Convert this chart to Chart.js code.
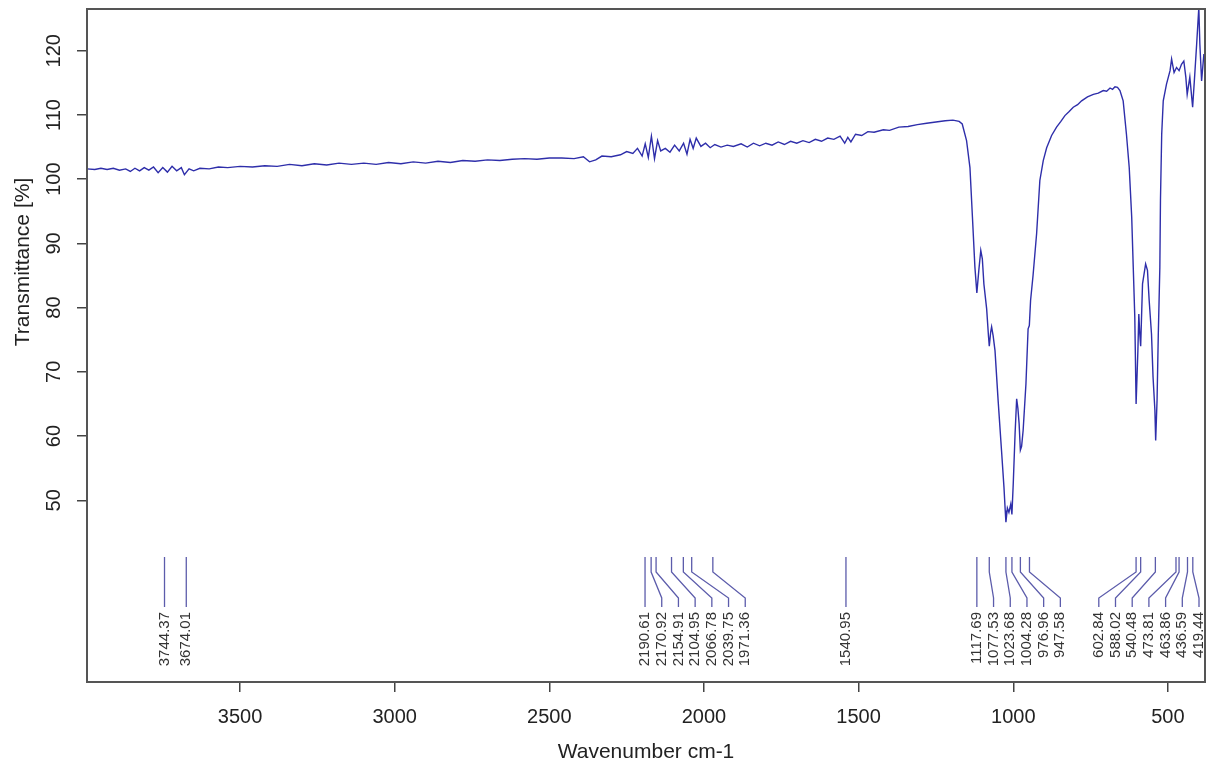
<!DOCTYPE html>
<html>
<head>
<meta charset="utf-8">
<script src="https://cdn.jsdelivr.net/npm/chart.js@4.4.1/dist/chart.umd.min.js"></script>
<style>
  body { margin: 0; background: #fff; }
  #wrap { width: 1206px; height: 760px; position: relative; }
</style>
</head>
<body>
<div id="wrap"><canvas id="spec"></canvas></div>
<script>
// spectrum (wavenumber cm-1 / transmittance %)
const waveNumbers = [
  3995, 3970, 3950, 3930, 3910, 3890, 3870, 3855, 3840, 3825, 3810, 3795, 3780, 3765, 3750, 3735, 3720, 3705, 3690, 3680,
  3665, 3650, 3630, 3600, 3570, 3540, 3500, 3460, 3420, 3380, 3340, 3300, 3260, 3220, 3180, 3140, 3100, 3060, 3020, 2980,
  2940, 2900, 2860, 2820, 2780, 2740, 2700, 2660, 2620, 2580, 2540, 2500, 2460, 2420, 2390, 2370, 2350, 2330, 2300, 2270,
  2250, 2230, 2215, 2200, 2190, 2180, 2170, 2160, 2150, 2140, 2125, 2110, 2095, 2080, 2066, 2055, 2045, 2035, 2025, 2010,
  1995, 1980, 1965, 1945, 1925, 1905, 1880, 1860, 1840, 1820, 1800, 1780, 1760, 1740, 1720, 1700, 1680, 1660, 1640, 1620,
  1600, 1580, 1560, 1545, 1535, 1525, 1510, 1490, 1470, 1450, 1420, 1400, 1370, 1340, 1310, 1280, 1250, 1220, 1195, 1175,
  1165, 1151, 1140, 1132, 1124, 1117.7, 1111, 1105, 1100, 1095, 1086, 1080, 1077.5, 1073, 1070, 1065, 1059, 1049, 1038, 1030,
  1026, 1023.7, 1019, 1014, 1008, 1004.3, 1000, 994, 989, 985, 981, 977, 973, 968, 959, 952, 948, 944, 936, 924.5,
  914, 903, 892, 876, 860, 846, 833, 820, 806, 792, 779, 760, 741, 725, 709, 698, 687, 679, 671, 663,
  655, 644.6, 634, 625, 617, 612, 607, 602.8, 597, 594, 591, 588, 582, 572, 566, 560.5, 553, 548, 542, 539.5,
  535, 531, 526, 524, 520, 515, 504.5, 493, 488, 480, 472, 463.8, 456, 448.5, 442, 437.6, 429, 420, 413, 407,
  400, 396.6, 391, 383.6
];
const transmittance = [
  101.6, 101.5, 101.7, 101.5, 101.7, 101.4, 101.6, 101.2, 101.7, 101.3, 101.8, 101.4, 101.9, 101.0, 101.8, 101.1, 102.0, 101.3, 101.8, 100.7,
  101.6, 101.3, 101.7, 101.6, 101.9, 101.8, 102.0, 101.9, 102.1, 102.0, 102.3, 102.1, 102.4, 102.2, 102.5, 102.3, 102.5, 102.3, 102.6, 102.4,
  102.7, 102.5, 102.8, 102.6, 102.9, 102.8, 103.0, 102.9, 103.1, 103.2, 103.1, 103.3, 103.3, 103.2, 103.5, 102.7, 103.0, 103.6, 103.5, 103.8,
  104.3, 104.0, 104.8, 103.6, 105.5, 103.4, 106.7, 103.2, 106.0, 104.4, 104.8, 104.2, 105.3, 104.4, 105.6, 103.9, 106.2, 104.8, 106.4, 105.1,
  105.6, 104.9, 105.4, 105.0, 105.3, 105.1, 105.5, 105.0, 105.6, 105.2, 105.6, 105.3, 105.8, 105.4, 105.9, 105.6, 106.0, 105.7, 106.2, 105.9,
  106.4, 106.2, 106.7, 105.6, 106.5, 105.8, 107.0, 106.8, 107.4, 107.3, 107.7, 107.6, 108.1, 108.2, 108.5, 108.7, 108.9, 109.1, 109.2, 109.0,
  108.6, 106.0, 101.8, 94.1, 86.3, 82.3, 86.0, 88.9, 87.6, 83.7, 79.8, 75.5, 74.0, 76.2, 77.0, 75.6, 73.3, 65.6, 57.8, 52.0,
  48.4, 46.6, 48.8, 48.1, 49.4, 47.8, 52.6, 60.5, 65.8, 64.3, 61.9, 57.8, 58.4, 60.9, 68.1, 76.7, 77.2, 81.1, 85.0, 91.5,
  99.8, 102.9, 104.9, 106.8, 108.1, 109.0, 109.9, 110.5, 111.2, 111.6, 112.2, 112.8, 113.2, 113.4, 113.8, 113.7, 114.2, 114.0, 114.4, 114.3,
  113.8, 112.2, 107.0, 101.8, 94.1, 86.3, 78.5, 65.0, 73.3, 79.0, 76.0, 74.0, 83.7, 86.8, 85.8, 81.1, 75.9, 69.2, 64.0, 59.3,
  65.6, 75.9, 86.3, 96.7, 107.0, 112.2, 114.8, 116.9, 118.7, 116.6, 117.4, 116.9, 117.9, 118.4, 115.9, 113.2, 115.9, 111.2, 116.4, 121.0,
  126.7, 121.0, 115.3, 119.5
];

// picked peaks, labelled under the curve
const peakPositions = [3744.37, 3674.01, 2190.61, 2170.92, 2154.91, 2104.95, 2066.78, 2039.75, 1971.36, 1540.95,
  1117.69, 1077.53, 1023.68, 1004.28, 976.96, 947.58, 602.84, 588.02, 540.48, 473.81, 463.86, 436.59, 419.44];

const xTicks = [3500, 3000, 2500, 2000, 1500, 1000, 500];
const yTicks = [50, 60, 70, 80, 90, 100, 110, 120];

const FONT = '"Liberation Sans", Arial, sans-serif';

let points = new Array;
waveNumbers.forEach((w, i) => {
  points.push({x: w, y: transmittance[i]});
});

// frame + axis titles + peak list
const extras = {
  id: 'extras',
  afterDatasetsDraw(chart) {
    const {ctx, chartArea} = chart;
    const xs = chart.scales.x;
    const bottom = chartArea.bottom;

    // label positions: spread left to right, then push back from the right edge
    let items = peakPositions.map(p => ({value: p, px: xs.getPixelForValue(p)}));
    items.sort((a, b) => a.px - b.px);
    const gap = 16.7;
    let lx = [];
    items.forEach((it, i) => {
      lx[i] = i == 0 ? it.px : Math.max(it.px, lx[i - 1] + gap);
    });
    const maxX = chartArea.right - 6;
    for (let i = items.length - 1; i >= 0; i--) {
      let lim = i == items.length - 1 ? maxX : lx[i + 1] - gap;
      lx[i] = Math.min(lx[i], lim);
    }

    ctx.save();
    ctx.strokeStyle = '#5c5cab';
    ctx.lineWidth = 1.3;
    items.forEach((it, i) => {
      ctx.beginPath();
      ctx.moveTo(it.px, bottom - 125);
      ctx.lineTo(it.px, bottom - 110);
      ctx.lineTo(lx[i], bottom - 84);
      ctx.lineTo(lx[i], bottom - 75);
      ctx.stroke();
    });
    ctx.fillStyle = '#333';
    ctx.font = '15px ' + FONT;
    ctx.textAlign = 'right';
    ctx.textBaseline = 'middle';
    items.forEach((it, i) => {
      ctx.save();
      ctx.translate(lx[i], bottom - 70);
      ctx.rotate(-Math.PI / 2);
      ctx.fillText(it.value.toFixed(2), 0, 0);
      ctx.restore();
    });

    // box
    ctx.strokeStyle = '#555';
    ctx.lineWidth = 2;
    ctx.strokeRect(chartArea.left, chartArea.top, chartArea.right - chartArea.left, chartArea.bottom - chartArea.top);

    // titles
    ctx.fillStyle = '#222';
    ctx.font = '21px ' + FONT;
    ctx.textAlign = 'center';
    ctx.textBaseline = 'middle';
    ctx.fillText('Wavenumber cm-1', (chartArea.left + chartArea.right) / 2, 752);
    ctx.translate(23, 262);
    ctx.rotate(-Math.PI / 2);
    ctx.fillText('Transmittance [%]', 0, 0);
    ctx.restore();
  }
};

const ctxSpec = document.querySelector('#spec');

let specChart = new Chart(ctxSpec, {
  type: 'line',
  data: {
    datasets: [{
      data: points,
      borderColor: '#2e2eaa',
      borderWidth: 1.4,
      pointRadius: 0,
      tension: 0,
      fill: false
    }]
  },
  options: {
    responsive: true,
    maintainAspectRatio: false,
    animation: false,
    layout: { padding: { top: 9, right: 1, left: 0, bottom: 0 } },
    plugins: { legend: { display: false }, tooltip: { enabled: false } },
    scales: {
      x: {
        type: 'linear',
        reverse: true,
        min: 380,
        max: 3995,
        afterBuildTicks: (s) => { s.ticks = xTicks.map(v => ({value: v})); },
        afterFit: (s) => { s.height = 78; s.paddingLeft = 0; s.paddingRight = 0; },
        grid: { drawOnChartArea: false, drawTicks: true, tickLength: 10, color: '#444', lineWidth: 1.5 },
        border: { display: false },
        ticks: { font: { size: 20, family: FONT }, color: '#222', padding: 13, maxRotation: 0, minRotation: 0,
          callback: (v) => String(v) }
      },
      y: {
        min: 21.7,
        max: 126.5,
        afterBuildTicks: (s) => { s.ticks = yTicks.map(v => ({value: v})); },
        afterFit: (s) => { s.width = 87; s.paddingTop = 0; s.paddingBottom = 0; },
        grid: { drawOnChartArea: false, drawTicks: true, tickLength: 10, color: '#444', lineWidth: 1.5 },
        border: { display: false },
        ticks: { font: { size: 20, family: FONT }, color: '#222', padding: 6, minRotation: 90, maxRotation: 90, crossAlign: 'center',
          callback: (v) => String(v) }
      }
    }
  },
  plugins: [extras]
});
</script>
</body>
</html>
